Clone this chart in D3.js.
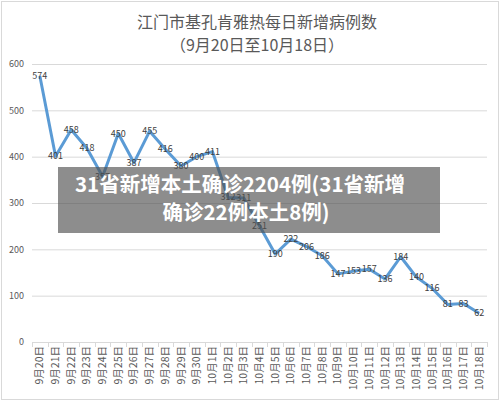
<!DOCTYPE html>
<html>
<head>
<meta charset="utf-8">
<script src="https://cdn.jsdelivr.net/npm/d3@7"></script>
<style>
body { margin:0; background:#fff; }
svg text { font-family: "Noto Sans CJK SC", "Noto Sans", sans-serif; }
</style>
</head>
<body>
<script>
//daily new cases
var dates = ["9月20日","9月21日","9月22日","9月23日","9月24日","9月25日","9月26日","9月27日","9月28日","9月29日","9月30日",
	"10月1日","10月2日","10月3日","10月4日","10月5日","10月6日","10月7日","10月8日","10月9日","10月10日",
	"10月11日","10月12日","10月13日","10月14日","10月15日","10月16日","10月17日","10月18日"];
var cases = [574,401,458,418,357,450,387,455,416,380,400,411,312,311,251,190,222,206,186,147,153,157,136,184,140,116,81,83,62];
var yTicks = [0,100,200,300,400,500,600];
var titleLines = ["江门市基孔肯雅热每日新增病例数","（9月20日至10月18日）"];
var overlayLines = ["31省新增本土确诊2204例(31省新增","确诊22例本土8例)"];

(function(){
	var w = 500, h = 401;
	var left = 32, right = 487, top = 64, bottom = 342;

	var svg = d3.select("body").append("svg")
		.attr("width", w)
		.attr("height", h);

	//chart frame
	svg.append("rect")
		.attr("x", 1.5).attr("y", 1.5)
		.attr("width", w - 3).attr("height", h - 3)
		.attr("fill", "#fff")
		.attr("stroke", "#d9d9d9");

	//title
	svg.selectAll(".title")
		.data(titleLines)
		.enter()
		.append("text")
		.attr("class", "title")
		.attr("x", 257)
		.attr("y", function(d, i){ return i == 0 ? 28 : 51; })
		.attr("text-anchor", "middle")
		.attr("font-size", 16)
		.attr("fill", "#595959")
		.text(function(d){ return d; });

	//scales
	var x = d3.scaleBand()
		.domain(dates)
		.range([left, right]);

	var y = d3.scaleLinear()
		.domain([0, 600])
		.range([bottom, top]);

	//gridlines
	svg.selectAll(".grid")
		.data(yTicks.slice(1))
		.enter()
		.append("line")
		.attr("class", "grid")
		.attr("x1", left).attr("x2", right)
		.attr("y1", function(d){ return y(d) + 0.5; })
		.attr("y2", function(d){ return y(d) + 0.5; })
		.attr("stroke", "#d9d9d9");

	//y axis labels
	var yAxis = svg.append("g")
		.attr("transform", "translate(" + (left - 8) + ",0)")
		.call(d3.axisLeft(y).tickValues(yTicks).tickSize(0).tickPadding(0));
	yAxis.select(".domain").remove();
	yAxis.selectAll("text")
		.attr("font-size", 9)
		.attr("fill", "#595959")
		.attr("font-family", "Noto Sans CJK SC, sans-serif");

	//x axis: line, boundary ticks, rotated labels
	svg.append("line")
		.attr("x1", left).attr("x2", right)
		.attr("y1", bottom + 0.5).attr("y2", bottom + 0.5)
		.attr("stroke", "#d9d9d9");

	var bounds = dates.map(function(d){ return x(d); }).concat([right]);
	svg.selectAll(".xtick")
		.data(bounds)
		.enter()
		.append("line")
		.attr("class", "xtick")
		.attr("x1", function(d){ return Math.round(d) + 0.5; })
		.attr("x2", function(d){ return Math.round(d) + 0.5; })
		.attr("y1", bottom).attr("y2", bottom + 5)
		.attr("stroke", "#d9d9d9");

	svg.selectAll(".xlabel")
		.data(dates)
		.enter()
		.append("text")
		.attr("class", "xlabel")
		.attr("transform", function(d){
			return "translate(" + (x(d) + x.bandwidth()/2 + 3.5) + "," + (bottom + 4) + ") rotate(-90)";
		})
		.attr("text-anchor", "end")
		.attr("font-size", 10.5)
		.attr("fill", "#595959")
		.text(function(d){ return d; });

	//the line
	var line = d3.line()
		.x(function(d, i){ return x(dates[i]) + x.bandwidth()/2; })
		.y(function(d){ return y(d); });

	svg.append("path")
		.datum(cases)
		.attr("d", line)
		.attr("fill", "none")
		.attr("stroke", "#5b9bd5")
		.attr("stroke-width", 3)
		.attr("stroke-linejoin", "round");

	//data labels, centred on the points
	svg.selectAll(".dlabel")
		.data(cases)
		.enter()
		.append("text")
		.attr("class", "dlabel")
		.attr("x", function(d, i){ return x(dates[i]) + x.bandwidth()/2; })
		.attr("y", function(d){ return y(d) + 3; })
		.attr("text-anchor", "middle")
		.attr("font-size", 9)
		.attr("fill", "#404040")
		.text(function(d){ return d; });

	//grey news banner over the chart
	svg.append("rect")
		.attr("x", 58).attr("y", 167)
		.attr("width", 382).attr("height", 66)
		.attr("fill", "rgba(80,80,80,0.65)");

	svg.selectAll(".banner")
		.data(overlayLines)
		.enter()
		.append("text")
		.attr("class", "banner")
		.attr("x", function(d, i){ return i == 0 ? 240 : 246; })
		.attr("y", function(d, i){ return i == 0 ? 192 : 220; })
		.attr("text-anchor", "middle")
		.attr("font-size", 20.5)
		.attr("font-weight", "bold")
		.attr("fill", "#fff")
		.text(function(d){ return d; });
})();
</script>
</body>
</html>
